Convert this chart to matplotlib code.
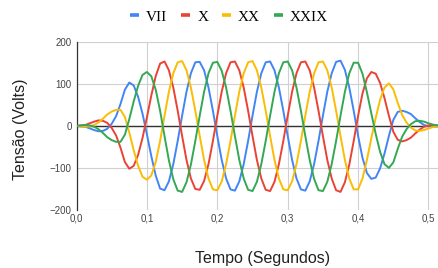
import matplotlib.pyplot as plt
from matplotlib.lines import Line2D

# amostras a cada 0,00625 s
passo = 0.00625

vii = [0, -1, -2, -6, -10, -13, -12, -7, 5, 23, 52, 86, 103, 96, 69, 29,
       -20, -72, -118, -149, -153, -132, -91, -36, 24, 81, 125, 151, 152, 132, 91, 36,
       -24, -81, -125, -151, -154, -132, -91, -36, 24, 81, 125, 151, 153, 132, 91, 36,
       -24, -81, -125, -151, -154, -132, -91, -36, 24, 81, 125, 152, 155, 133, 91, 36,
       -24, -76, -112, -126, -123, -101, -66, -24, 14, 33, 36, 33, 28, 18, 9, 2,
       -1, -2, -1, 0]

x = [0, 1, 2, 6, 10, 13, 12, 7, -5, -23, -52, -86, -102, -95, -69, -29,
     20, 72, 118, 148, 153, 132, 91, 36, -24, -81, -125, -150, -152, -131, -91, -36,
     24, 81, 125, 151, 153, 132, 91, 36, -24, -81, -125, -152, -155, -133, -91, -36,
     24, 81, 125, 151, 153, 132, 91, 36, -24, -81, -125, -153, -157, -134, -92, -36,
     24, 77, 113, 128, 124, 102, 66, 24, -14, -33, -37, -34, -28, -18, -9, -2,
     1, 2, 1, 0]

xx = [0, -1, -2, -1, 2, 8, 17, 27, 34, 38, 38, 21, -16, -58, -95, -121,
      -128, -118, -86, -36, 24, 81, 125, 151, 154, 132, 91, 36, -24, -81, -125, -151,
      -153, -132, -91, -36, 24, 81, 125, 151, 154, 132, 91, 36, -24, -81, -125, -151,
      -153, -132, -91, -36, 24, 81, 125, 151, 153, 132, 91, 36, -24, -81, -125, -151,
      -151, -125, -81, -30, 19, 62, 91, 101, 87, 55, 26, 8, -4, -11, -12, -10,
      -6, -3, -1, 0]

xxix = [0, 1, 2, 1, -2, -8, -17, -27, -34, -38, -38, -21, 16, 58, 95, 121,
        128, 118, 86, 36, -24, -82, -127, -154, -157, -134, -92, -36, 24, 81, 125, 150,
        152, 131, 91, 36, -24, -81, -125, -152, -155, -133, -91, -36, 24, 81, 125, 151,
        153, 132, 91, 36, -24, -81, -126, -153, -155, -133, -91, -36, 24, 81, 125, 150,
        150, 124, 80, 30, -19, -62, -91, -100, -87, -55, -26, -8, 4, 11, 12, 10,
        6, 3, 1, 0]

tempo = [i * passo for i in range(len(vii))]

series = [vii, x, xx, xxix]
nomes = ["VII", "X", "XX", "XXIX"]
cores = ["#4285F4", "#EA4335", "#FBBC04", "#34A853"]

xticks = [0, 0.1, 0.2, 0.3, 0.4, 0.5]
xtick_labels = ["0,0", "0,1", "0,2", "0,3", "0,4", "0,5"]
yticks = [-200, -100, 0, 100, 200]

plt.rcParams['font.family'] = ['Liberation Sans', 'DejaVu Sans']

fig = plt.figure(figsize=(4.38, 2.68), dpi=100)
ax = fig.add_axes([76.5 / 438, 1 - 210 / 268, 1 - 76.5 / 438, 168.3 / 268])

for s, cor in zip(series, cores):
    ax.plot(tempo, s, color=cor, lw=1.4, zorder=3)

ax.axhline(0, color="#333333", lw=1, zorder=2)
ax.set_xlim(0, 0.5135)
ax.set_ylim(-200, 200)
ax.set_xticks(xticks)
ax.set_xticklabels(xtick_labels)
ax.set_yticks(yticks)
ax.grid(color="#d0d0d0", lw=0.8, zorder=0)
ax.tick_params(length=0, labelsize=7, colors="#444444")
ax.tick_params(axis='y', pad=3.5)
ax.tick_params(axis='x', pad=2.5)
for lado in ["top", "right", "bottom"]:
    ax.spines[lado].set_visible(False)
ax.spines["left"].set_color("#333333")
ax.spines["left"].set_linewidth(0.9)

fig.text(262.5 / 438, 1 - 259 / 268, "Tempo (Segundos)", ha="center", va="center",
         fontsize=11.5, color="#222222")
fig.text(20.5 / 438, 1 - 129 / 268, "Tensão (Volts)", ha="center", va="center",
         rotation=90, fontsize=11.5, color="#222222")

handles = [Line2D([], [], color=c, lw=2.6, solid_capstyle="butt") for c in cores]
fig.legend(handles, nomes, loc="center", bbox_to_anchor=(229 / 438, 1 - 17 / 268),
           ncol=4, frameon=False, handlelength=0.6, handletextpad=0.45,
           columnspacing=0.9, borderpad=0,
           prop={"family": "Liberation Serif", "size": 11})

fig.savefig("out.png", dpi=100)
